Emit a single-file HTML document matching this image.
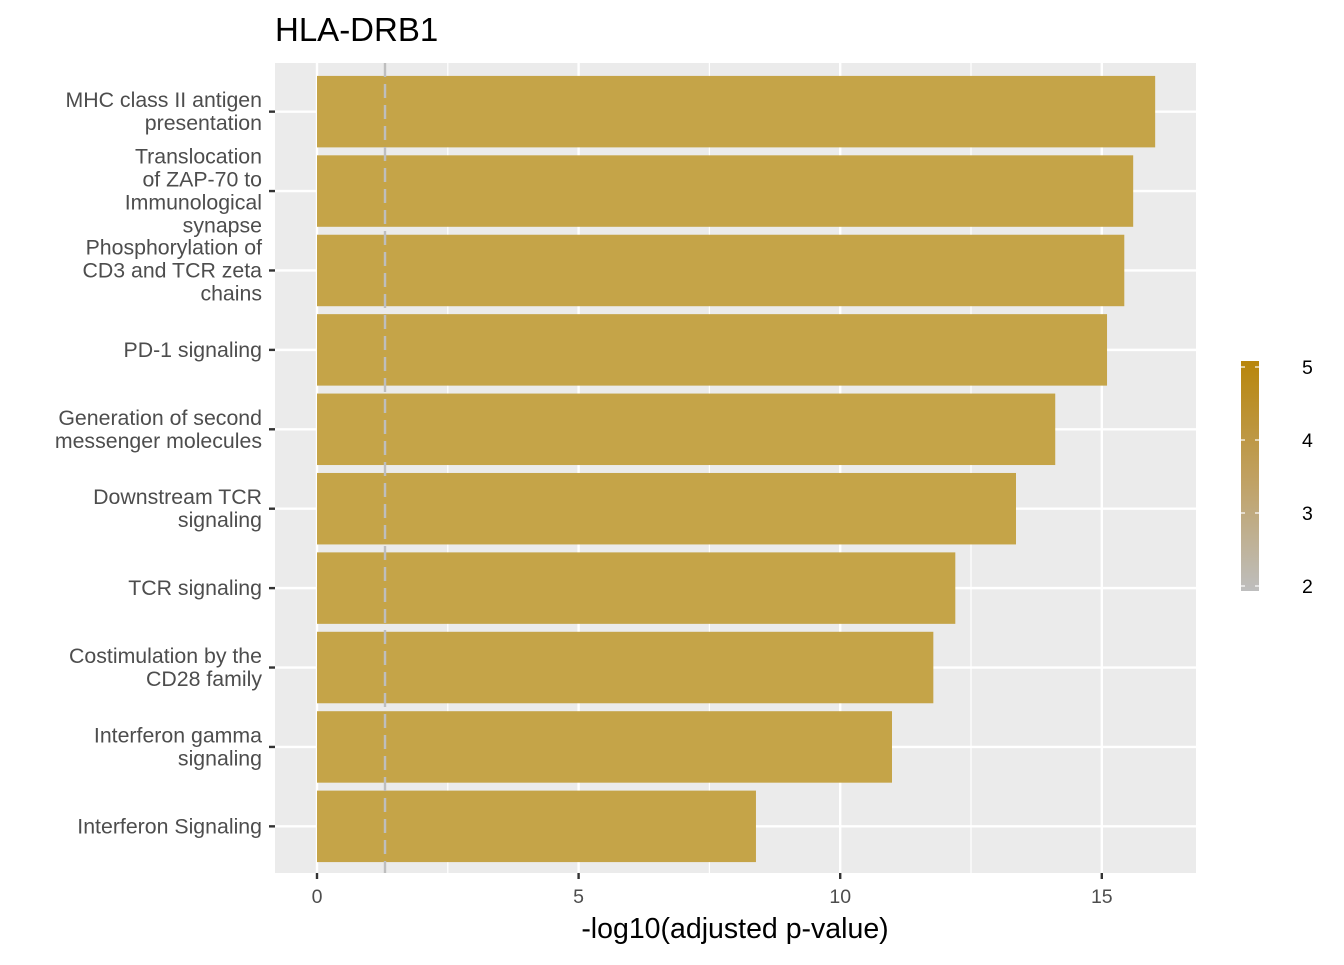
<!DOCTYPE html>
<html><head><meta charset="utf-8"><style>
body{margin:0;background:#fff;font-family:"Liberation Sans",sans-serif}
</style></head><body>
<svg id="c" width="1344" height="960" xmlns="http://www.w3.org/2000/svg">
<defs><linearGradient id="g" x1="0" y1="1" x2="0" y2="0"><stop offset="0" stop-color="#BEBEBE"/><stop offset="0.5" stop-color="#C0A060"/><stop offset="1" stop-color="#B8860B"/></linearGradient></defs>
<text x="275" y="41" font-size="33" fill="#000">HLA-DRB1</text>
<rect x="275" y="63" width="921" height="810" fill="#EBEBEB"/>
<g id="grid"></g><g id="bars"></g><g id="ylab"></g><g id="xlab"></g>
<text x="735" y="938" font-size="28.5" text-anchor="middle" fill="#000">-log10(adjusted p-value)</text>
<rect x="1241" y="361" width="18" height="230" fill="url(#g)"/>
<g id="leg"></g>
</svg>
<script>
const categories=["MHC class II antigen|presentation","Translocation|of ZAP-70 to|Immunological|synapse","Phosphorylation of|CD3 and TCR zeta|chains","PD-1 signaling","Generation of second|messenger molecules","Downstream TCR|signaling","TCR signaling","Costimulation by the|CD28 family","Interferon gamma|signaling","Interferon Signaling"];
const values=[16.02,15.6,15.43,15.1,14.11,13.36,12.2,11.78,10.99,8.39];
const xTicks=[0,5,10,15];
const legendTicks=[5,4,3,2];
const threshold=1.3;
const NS="http://www.w3.org/2000/svg";
const x=v=>317+v*52.32;
const band=810/10.2;
const y=i=>64+band*(0.6+i);
const ly=v=>586-(v-2)*73;
function mk(t,a,p){const e=document.createElementNS(NS,t);for(const k in a)e.setAttribute(k,a[k]);p.appendChild(e);return e;}
const grid=document.getElementById('grid');
[2.5,7.5,12.5].forEach(v=>{const l=mk('line',{x1:x(v),x2:x(v),y1:63,y2:873,stroke:'#fff','stroke-width':1.2},grid);});
xTicks.forEach(v=>{const l=mk('line',{x1:x(v),x2:x(v),y1:63,y2:873,stroke:'#fff','stroke-width':2.4},grid);});
categories.forEach((c,i)=>{const l=mk('line',{x1:275,x2:1196,y1:y(i),y2:y(i),stroke:'#fff','stroke-width':2.4},grid);});
const bars=document.getElementById('bars');
values.forEach((v,i)=>{const r=mk('rect',{x:x(0),y:y(i)-band*0.45,width:x(v)-x(0),height:band*0.9,fill:'#C5A448'},bars);});
const th=mk('line',{x1:x(threshold),x2:x(threshold),y1:63,y2:873,stroke:'#BEBEBE','stroke-width':2.4,'stroke-dasharray':'14,7'},bars);

const yl=document.getElementById('ylab');
categories.forEach((c,i)=>{const lines=c.split('|');const n=lines.length;
 const t=mk('line',{x1:269,x2:275,y1:y(i),y2:y(i),stroke:'#333','stroke-width':2.4},yl);
 const tx=mk('text',{x:262,'font-size':21.3,fill:'#4D4D4D','text-anchor':'end'},yl);
 lines.forEach((s,k)=>{const ts=mk('tspan',{x:262,y:y(i)+7+(k-(n-1)/2)*23},tx);ts.textContent=s;});});
const xl=document.getElementById('xlab');
xTicks.forEach(v=>{const t=mk('line',{x1:x(v),x2:x(v),y1:873,y2:879,stroke:'#333','stroke-width':2.4},xl);
 const tx=mk('text',{x:x(v),y:903,'font-size':19.5,fill:'#4D4D4D','text-anchor':'middle'},xl);tx.textContent=v;});
const lg=document.getElementById('leg');
legendTicks.forEach(v=>{[1241,1255].forEach(x0=>{const t=mk('line',{x1:x0,x2:x0+4,y1:ly(v),y2:ly(v),stroke:'#fff','stroke-width':1.2},lg);});
 const tx=mk('text',{x:1302,y:ly(v)+7,'font-size':19.5,fill:'#000'},lg);tx.textContent=v;});
</script>
</body></html>
